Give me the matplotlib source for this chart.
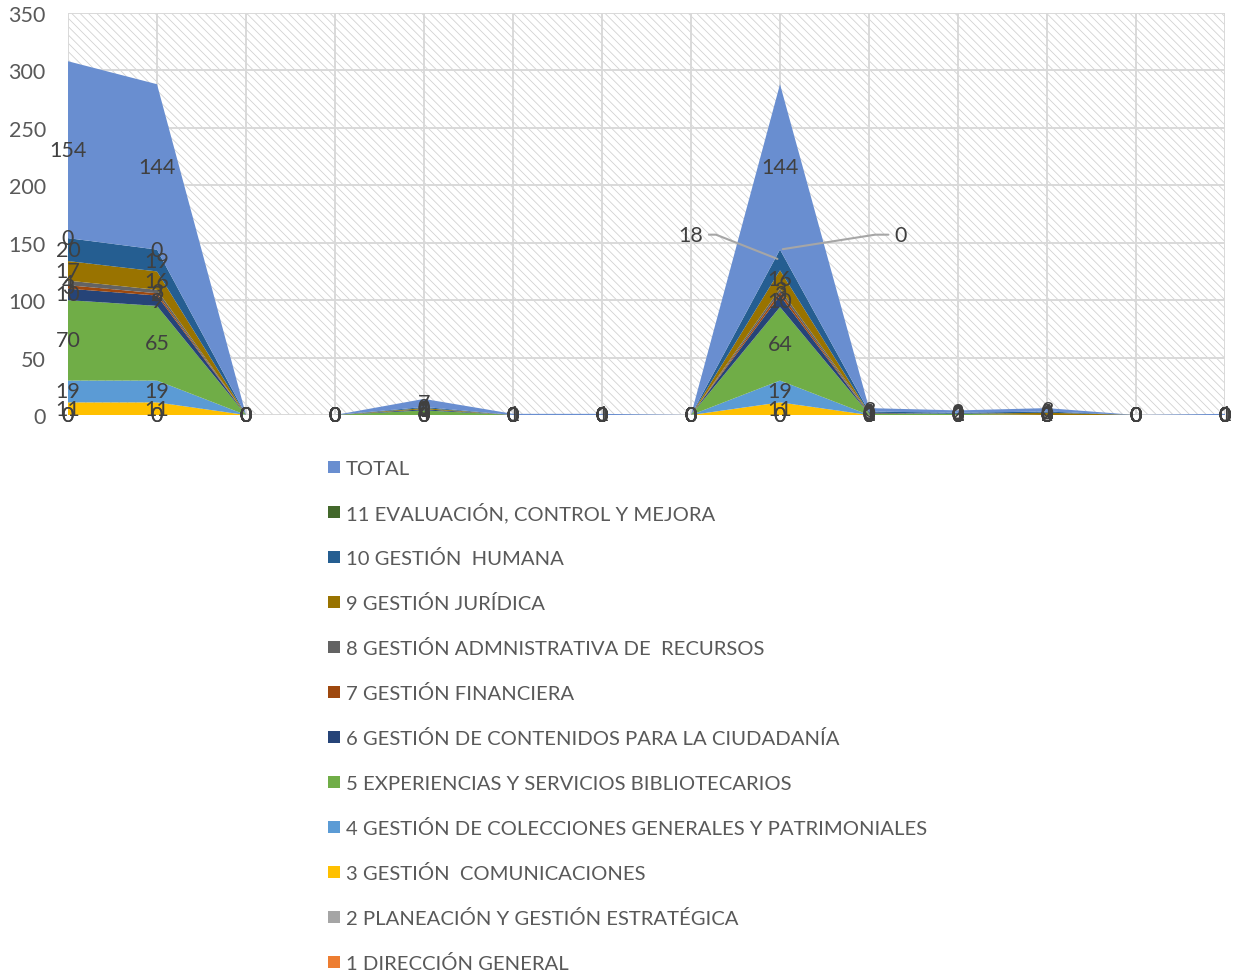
import numpy as np
import matplotlib.pyplot as plt
from matplotlib.patches import Rectangle

plt.rcParams['font.family'] = ['Lato', 'DejaVu Sans']
plt.rcParams['hatch.linewidth'] = 0.6

# one value per category column (14 columns, no category names)
direccion = [0, 0, 0, 0, 0, 0, 0, 0, 0, 0, 0, 0, 0, 0]
planeacion = [0, 0, 0, 0, 0, 0, 0, 0, 0, 0, 0, 0, 0, 0]
comunicaciones = [11, 11, 0, 0, 0, 0, 0, 0, 11, 0, 0, 0, 0, 0]
colecciones = [19, 19, 0, 0, 0, 0, 0, 0, 19, 0, 0, 0, 0, 0]
experiencias = [70, 65, 0, 0, 4, 0, 0, 0, 64, 1, 1, 0, 0, 0]
contenidos = [10, 9, 0, 0, 1, 0, 0, 0, 10, 0, 0, 0, 0, 0]
financiera = [3, 2, 0, 0, 0, 0, 0, 0, 3, 0, 0, 0, 0, 0]
administrativa = [4, 3, 0, 0, 0, 0, 0, 0, 3, 1, 0, 0, 0, 0]
juridica = [17, 16, 0, 0, 1, 0, 0, 0, 16, 0, 0, 2, 0, 0]
humana = [20, 19, 0, 0, 1, 0, 0, 0, 18, 1, 1, 1, 0, 0]
evaluacion = [0, 0, 0, 0, 0, 0, 0, 0, 0, 0, 0, 0, 0, 0]
total = [154, 144, 0, 0, 7, 1, 1, 0, 144, 3, 2, 3, 0, 1]

names = ['1 DIRECCIÓN GENERAL', '2 PLANEACIÓN Y GESTIÓN ESTRATÉGICA',
         '3 GESTIÓN  COMUNICACIONES',
         '4 GESTIÓN DE COLECCIONES GENERALES Y PATRIMONIALES',
         '5 EXPERIENCIAS Y SERVICIOS BIBLIOTECARIOS',
         '6 GESTIÓN DE CONTENIDOS PARA LA CIUDADANÍA',
         '7 GESTIÓN FINANCIERA', '8 GESTIÓN ADMNISTRATIVA DE  RECURSOS',
         '9 GESTIÓN JURÍDICA', '10 GESTIÓN  HUMANA',
         '11 EVALUACIÓN, CONTROL Y MEJORA', 'TOTAL']
colors = ['#ED7D31', '#A5A5A5', '#FFC000', '#5B9BD5', '#70AD47', '#264478',
          '#9E480E', '#636363', '#997300', '#255E91', '#43682B', '#698ED0']

series = np.array([direccion, planeacion, comunicaciones, colecciones,
                   experiencias, contenidos, financiera, administrativa,
                   juridica, humana, evaluacion, total], dtype=float)
x = np.arange(series.shape[1])

W, H = 1243, 978
fig = plt.figure(figsize=(W / 100, H / 100), dpi=100)
ax = fig.add_axes([68 / W, 1 - 416 / H, (1225 - 68) / W, (416 - 14) / H])

# hatched plot background
bg = Rectangle((0, 0), 1, 1, transform=ax.transAxes, facecolor='white',
               edgecolor='#d2d2d2', hatch='\\\\\\\\', linewidth=0, zorder=0)
ax.add_patch(bg)

polys = ax.stackplot(x, series, colors=colors, labels=names, linewidth=0, zorder=2)

ax.set_xlim(0, len(x) - 1)
ax.set_ylim(0, 350)
ax.set_yticks(np.arange(0, 351, 50))
ax.set_xticks(x)
ax.set_xticklabels([])
ax.grid(True, color='#d9d9d9', linewidth=1.4, zorder=1)
ax.set_axisbelow(True)
ax.tick_params(length=0, labelsize=15.5, labelcolor='#595959', pad=16)
for s in ax.spines.values():
    s.set_visible(False)

# value labels in the middle of each band
lab_kw = dict(fontsize=15.5, color='#404040', zorder=5)
cum = np.cumsum(series, axis=0)
for i in range(series.shape[0]):
    for j in x:
        if j == 8 and i in (9, 10):
            continue
        v = series[i, j]
        ax.text(j, cum[i, j] - v / 2, f'{int(v)}', ha='center', va='center', **lab_kw)

# moved labels with leader lines
ax.annotate(f'{int(humana[8])}', xy=(8, cum[9, 8] - humana[8] / 2),
            xytext=(7.0, 157), ha='center', va='center', **lab_kw,
            arrowprops=dict(arrowstyle='-', color='#a6a6a6', lw=1.5,
                            connectionstyle='arc,angleA=0,armA=25,angleB=0,armB=0,rad=0'))
ax.annotate(f'{int(evaluacion[8])}', xy=(8, cum[10, 8]),
            xytext=(9.35, 157), ha='center', va='center', **lab_kw,
            arrowprops=dict(arrowstyle='-', color='#a6a6a6', lw=1.5,
                            connectionstyle='arc,angleA=180,armA=25,angleB=0,armB=0,rad=0'))

# legend, one entry per row, last series first
for k, (name, col) in enumerate(zip(names[::-1], colors[::-1])):
    yc = 468 + 45 * k
    fig.add_artist(Rectangle((328 / W, 1 - (yc + 6) / H), 12 / W, 12 / H,
                             transform=fig.transFigure, facecolor=col,
                             edgecolor='none'))
    fig.text(346 / W, 1 - (yc + 7) / H, name, ha='left', va='baseline',
             fontsize=14.6, color='#595959')

fig.savefig('out.png', dpi=100)
